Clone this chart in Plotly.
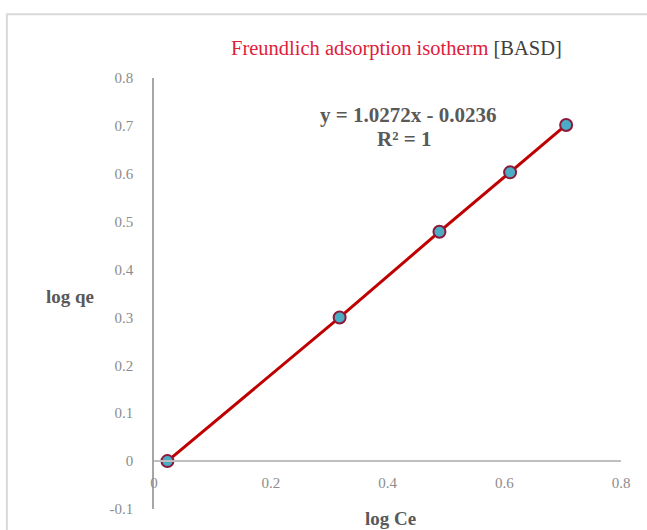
import plotly.graph_objects as go

log_ce = [0.023, 0.318, 0.489, 0.610, 0.706]
log_qe = [0.000, 0.300, 0.479, 0.603, 0.702]

x_ticks = [0, 0.2, 0.4, 0.6, 0.8]
x_tick_text = ["0", "0.2", "0.4", "0.6", "0.8"]
y_ticks = [-0.1, 0, 0.1, 0.2, 0.3, 0.4, 0.5, 0.6, 0.7, 0.8]
y_tick_text = ["-0.1", "0", "0.1", "0.2", "0.3", "0.4", "0.5", "0.6", "0.7", "0.8"]

equation = "y = 1.0272x - 0.0236"
r2_text = "R² = 1"

serif = "Liberation Serif, Times New Roman, serif"

fig = go.Figure()
fig.add_trace(go.Scatter(
    x=log_ce, y=log_qe, mode="lines+markers",
    line=dict(color="#C00000", width=3),
    marker=dict(size=12, color="#4BACC6", line=dict(color="#8B1A3A", width=2)),
    showlegend=False,
))

ymin, ymax = -0.1, 0.8
fig.update_layout(
    width=647, height=530,
    margin=dict(l=154, r=26, t=78, b=21),
    paper_bgcolor="white", plot_bgcolor="white",
    xaxis=dict(
        range=[0, 0.8], tickvals=x_ticks, ticktext=x_tick_text,
        showgrid=False, zeroline=False,
        showline=True, linecolor="#BFBFBF", linewidth=1.5,
        anchor="free", position=(0 - ymin) / (ymax - ymin),
        ticks="", ticklabelstandoff=8,
        tickfont=dict(family=serif, size=15, color="#8C8C8C"),
    ),
    yaxis=dict(
        range=[ymin, ymax], tickvals=y_ticks, ticktext=y_tick_text,
        showgrid=False, zeroline=False,
        showline=True, linecolor="#A6A6A6", linewidth=1.5,
        ticks="", ticklabelstandoff=16,
        tickfont=dict(family=serif, size=15, color="#8C8C8C"),
    ),
    font=dict(family=serif),
)

# chart frame
fig.add_shape(type="rect", xref="paper", yref="paper",
              x0=-0.315, x1=1.2, y0=-0.2, y1=1.148,
              line=dict(color="#D9D9D9", width=2), layer="below")

fig.add_annotation(
    xref="paper", yref="paper", x=0.520, y=1.0696, showarrow=False,
    text="<span style='color:#E0203A'>Freundlich adsorption isotherm</span> <span style='color:#404040'>[BASD]</span>",
    font=dict(family=serif, size=20.5), xanchor="center", yanchor="middle",
)
fig.add_annotation(
    xref="paper", yref="paper", x=0.544, y=0.914, showarrow=False,
    text="<b>" + equation + "</b>",
    font=dict(family=serif, size=21, color="#595959"), xanchor="center", yanchor="middle",
)
fig.add_annotation(
    xref="paper", yref="paper", x=0.535, y=0.858, showarrow=False,
    text="<b>" + r2_text + "</b>",
    font=dict(family=serif, size=21, color="#595959"), xanchor="center", yanchor="middle",
)
fig.add_annotation(
    xref="paper", yref="paper", x=0.507, y=-0.021, showarrow=False,
    text="<b>log Ce</b>", font=dict(family=serif, size=19, color="#595959"),
    xanchor="center", yanchor="middle",
)
fig.add_annotation(
    xref="paper", yref="paper", x=-0.18, y=0.494, showarrow=False,
    text="<b>log qe</b>", font=dict(family=serif, size=19, color="#595959"),
    xanchor="center", yanchor="middle",
)

fig.write_html("out.html")
